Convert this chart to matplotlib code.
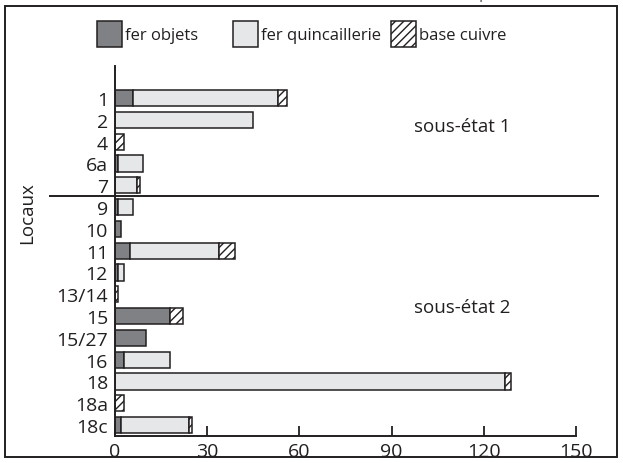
import numpy as np
import matplotlib.pyplot as plt
from matplotlib.patches import Rectangle

plt.rcParams['font.family'] = ['Open Sans', 'DejaVu Sans']
plt.rcParams['hatch.linewidth'] = 1.0

locaux = ["1", "2", "4", "6a", "7", "9", "10", "11", "12", "13/14",
          "15", "15/27", "16", "18", "18a", "18c"]
fer_objets = [6, 0, 0, 1, 0, 1, 2, 5, 1, 0, 18, 10, 3, 0, 0, 2]
fer_quinc = [47, 45, 0, 8, 7, 5, 0, 29, 2, 0, 0, 0, 15, 127, 0, 22]
base_cuivre = [3, 0, 3, 0, 1, 0, 0, 5, 0, 1, 4, 0, 0, 2, 3, 1]
xticks = [0, 30, 60, 90, 120, 150]
series = ["fer objets", "fer quincaillerie", "base cuivre"]

edge = '#231f20'
c_obj = '#808184'
c_quinc = '#e6e7e8'
W, H = 623, 464

fig = plt.figure(figsize=(6.23, 4.64), dpi=100)
ax = fig.add_axes([115/W, 1 - 437/H, 461/W, 370/H])

y = np.arange(len(locaux))
a = np.array(fer_objets)
b = np.array(fer_quinc)
c = np.array(base_cuivre)
kw = dict(height=0.74, edgecolor=edge, linewidth=1.1)
m = a > 0
ax.barh(y[m], a[m], color=c_obj, **kw)
m = b > 0
ax.barh(y[m], b[m], left=a[m], color=c_quinc, **kw)
m = c > 0
ax.barh(y[m], c[m], left=(a + b)[m], color='white', hatch='////', **kw)

ax.set_xlim(0, 150)
ax.set_ylim(len(locaux) - 0.5, -1.47)
ax.set_yticks(y)
ax.set_yticklabels(locaux, fontsize=14, color=edge)
ax.set_xticks(xticks)
ax.set_xticklabels([str(t) for t in xticks], fontsize=14, color=edge)
ax.tick_params(axis='x', direction='in', length=7, width=1.3, color=edge, pad=4)
ax.tick_params(axis='y', length=0, pad=5)
for s in ['top', 'right']:
    ax.spines[s].set_visible(False)
for s in ['left', 'bottom']:
    ax.spines[s].set_linewidth(1.4)
    ax.spines[s].set_color(edge)

# separation between the two sub-states
ax.plot([-0.141, 1.048], [4.5, 4.5], color=edge, lw=1.4,
        transform=ax.get_yaxis_transform(), clip_on=False)
ax.text(113, 1.3, "sous-état 1", ha='center', va='center', fontsize=13.5, color=edge)
ax.text(113, 9.6, "sous-état 2", ha='center', va='center', fontsize=13.5, color=edge)

fig.text(27/W, 1 - 213/H, "Locaux", rotation=90, ha='center', va='center',
         fontsize=13.5, color=edge)

# legend, drawn by hand (uneven spacing in the original)
leg_x = [97, 233, 391]
faces = [c_obj, c_quinc, 'white']
hatches = [None, None, '////']
for lx, lab, fc, ht in zip(leg_x, series, faces, hatches):
    fig.patches.append(Rectangle((lx/W, 1 - 48/H), 25/W, 26/H,
                                 transform=fig.transFigure, facecolor=fc,
                                 edgecolor=edge, lw=1.1, hatch=ht))
    fig.text((lx + 28)/W, 1 - 36/H, lab, ha='left', va='center',
             fontsize=12, color=edge)

# titre (coupé en haut de l'image)
fig.text(332/W, 1 + 2/H, "Nombre de restes de mobilier métallique",
         ha='center', va='baseline', fontsize=13, color='#666666')

fig.patches.append(Rectangle((5/W, 1 - 458/H), 612/W, 451/H,
                             transform=fig.transFigure, fill=False,
                             edgecolor=edge, lw=1.4))

fig.savefig("out.png", dpi=100)
